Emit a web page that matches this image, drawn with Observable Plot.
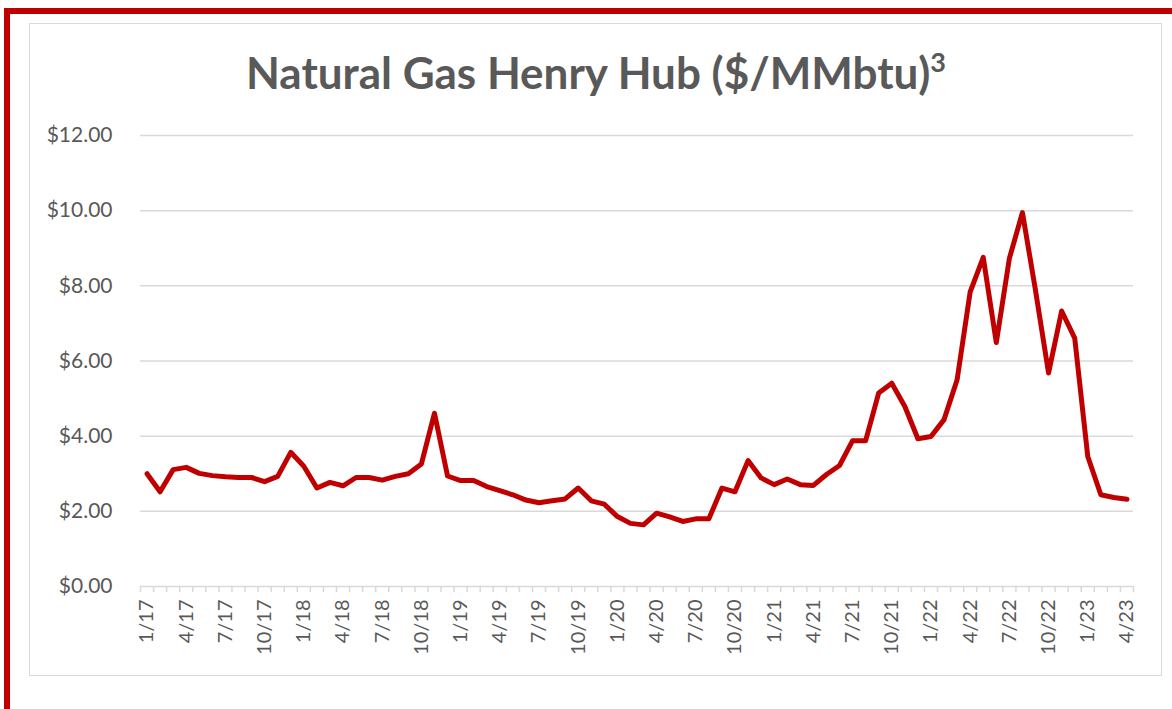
<!DOCTYPE html>
<html>
<head>
<meta charset="utf-8">
<script src="https://cdn.jsdelivr.net/npm/d3@7"></script>
<script src="https://cdn.jsdelivr.net/npm/@observablehq/plot@0.6"></script>
<style>
  html, body { margin: 0; padding: 0; background: #fff; }
  #page { position: relative; width: 1172px; height: 709px; overflow: hidden; font-family: Lato, "Open Sans", sans-serif; }
  #redTop { position: absolute; left: 4px; top: 8px; right: 0; height: 6px; background: #c00000; }
  #redLeft { position: absolute; left: 4px; top: 8px; width: 6px; bottom: 0; background: #c00000; }
  #box { position: absolute; left: 29px; top: 23px; width: 1131px; height: 651px; border: 1.5px solid #d9d9d9; }
  #title { position: absolute; left: 0; width: 1192px; top: 50px; text-align: center; font-size: 44px; font-weight: 700; color: #595959; line-height: 1; }
  #title sup { font-size: 27px; vertical-align: 0; position: relative; top: -17px; }
  #chart { position: absolute; left: 0; top: 0; }
</style>
</head>
<body>
<div id="page">
  <div id="redTop"></div>
  <div id="redLeft"></div>
  <div id="box"></div>
  <div id="title">Natural Gas Henry Hub ($/MMbtu)<sup>3</sup></div>
  <div id="chart"></div>
</div>
<script>
// Monthly labels Jan 2017 .. Apr 2023
const months = [
  "1/17","2/17","3/17","4/17","5/17","6/17","7/17","8/17","9/17","10/17","11/17","12/17",
  "1/18","2/18","3/18","4/18","5/18","6/18","7/18","8/18","9/18","10/18","11/18","12/18",
  "1/19","2/19","3/19","4/19","5/19","6/19","7/19","8/19","9/19","10/19","11/19","12/19",
  "1/20","2/20","3/20","4/20","5/20","6/20","7/20","8/20","9/20","10/20","11/20","12/20",
  "1/21","2/21","3/21","4/21","5/21","6/21","7/21","8/21","9/21","10/21","11/21","12/21",
  "1/22","2/22","3/22","4/22","5/22","6/22","7/22","8/22","9/22","10/22","11/22","12/22",
  "1/23","2/23","3/23","4/23"
];
// Henry Hub price, $/MMbtu
const prices = [
  3.00, 2.52, 3.11, 3.17, 3.01, 2.95, 2.92, 2.90, 2.90, 2.79, 2.93, 3.57,
  3.20, 2.62, 2.77, 2.68, 2.90, 2.90, 2.83, 2.93, 3.00, 3.26, 4.61, 2.94,
  2.82, 2.82, 2.66, 2.55, 2.44, 2.30, 2.23, 2.28, 2.33, 2.62, 2.28, 2.19,
  1.86, 1.68, 1.64, 1.95, 1.85, 1.73, 1.80, 1.80, 2.62, 2.52, 3.35, 2.89,
  2.71, 2.86, 2.71, 2.69, 2.98, 3.22, 3.88, 3.88, 5.15, 5.41, 4.79, 3.93,
  3.99, 4.44, 5.50, 7.84, 8.76, 6.49, 8.73, 9.95, 7.88, 5.68, 7.33, 6.61,
  3.46, 2.44, 2.37, 2.32
];
const yTicks = [0, 2, 4, 6, 8, 10, 12];

const data = months.map((m, i) => ({i, label: m, price: prices[i]}));
const labelIdx = data.filter(d => d.i % 3 === 0).map(d => d.i);
const boundaries = d3.range(months.length + 1).map(k => k - 0.5);

const textColor = "#595959";
const gridColor = "#d9d9d9";

const chart = Plot.plot({
  width: 1172,
  height: 709,
  marginLeft: 140,
  marginRight: 39,
  marginTop: 135,
  marginBottom: 123,
  style: { fontFamily: "Lato, 'Open Sans', sans-serif", fontSize: "21px", color: textColor, background: "transparent" },
  x: { type: "linear", domain: [-0.5, months.length - 0.5] },
  y: { domain: [0, 12] },
  marks: [
    Plot.gridY(yTicks.filter(v => v > 0), { stroke: gridColor, strokeOpacity: 1, strokeWidth: 1.5 }),
    Plot.ruleY([0], { stroke: gridColor, strokeWidth: 1.5 }),
    Plot.axisY(yTicks, {
      tickSize: 0, tickPadding: 28, fill: textColor, fontSize: 21,
      tickFormat: v => "$" + v.toFixed(2), label: null
    }),
    Plot.axisX(boundaries, {
      tickSize: 6, stroke: gridColor, strokeWidth: 1.5, tickFormat: () => "", label: null
    }),
    Plot.axisX(labelIdx, {
      tickSize: 0, tickPadding: 13, tickRotate: -90, fill: textColor, fontSize: 20,
      tickFormat: i => months[i], label: null
    }),
    Plot.line(data, {
      x: "i", y: "price", stroke: "#c00000", strokeWidth: 5,
      strokeLinejoin: "round", strokeLinecap: "round"
    })
  ]
});
document.getElementById("chart").appendChild(chart);
</script>
</body>
</html>
